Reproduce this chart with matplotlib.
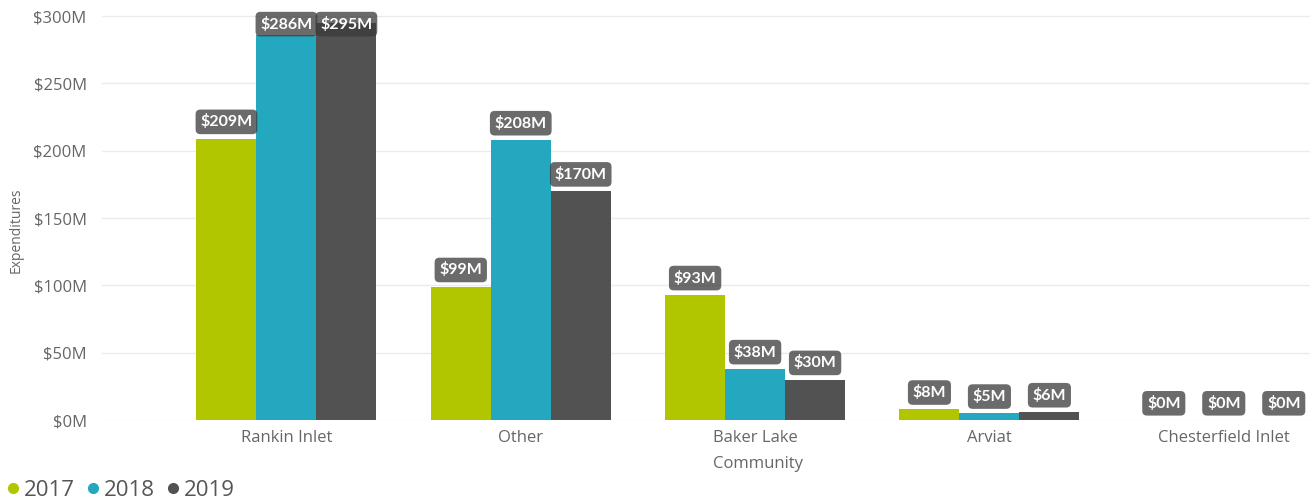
import matplotlib.pyplot as plt
import numpy as np

communities = ["Rankin Inlet", "Other", "Baker Lake", "Arviat", "Chesterfield Inlet"]
years = ["2017", "2018", "2019"]
spend_2017 = [209, 99, 93, 8, 0]
spend_2018 = [286, 208, 38, 5, 0]
spend_2019 = [295, 170, 30, 6, 0]
colors = ["#B2C600", "#24A8C0", "#525252"]
yticks = [0, 50, 100, 150, 200, 250, 300]

plt.rcParams['font.family'] = ['Open Sans', 'DejaVu Sans']

fig = plt.figure(figsize=(13.12, 5.03), dpi=100)
ax = fig.add_axes([102 / 1312, 83 / 503, 1208 / 1312, 420 / 503])

x = np.arange(len(communities))
w = 0.256
series = [spend_2017, spend_2018, spend_2019]
for i, (vals, c) in enumerate(zip(series, colors)):
    xs = x + (i - 1) * w
    ax.bar(xs, vals, width=w, color=c, zorder=2)
    for xi, v in zip(xs, vals):
        # labels sit above the bar, pushed down when they would leave the plot
        ly = min(v + 12.4, 294)
        ax.text(xi, ly, f"${v}M", ha="center", va="center", color="white",
                fontsize=11.5, family=["Lato", "DejaVu Sans"], fontweight="bold", zorder=4,
                bbox=dict(boxstyle="round,pad=0.3,rounding_size=0.3", fc="#3a3a3a",
                          ec="none", alpha=0.75))

ax.set_xlim(-0.787, 4.368)
ax.set_ylim(0, 311.9)
ax.set_yticks(yticks)
ax.set_yticklabels([f"${t}M" for t in yticks])
ax.set_xticks(x)
ax.set_xticklabels(communities)
ax.grid(axis="y", color="#EBEBEB", linewidth=1, zorder=0)
ax.tick_params(length=0, labelsize=12, colors="#666666", pad=7)
ax.tick_params(axis="y", pad=11)
for s in ax.spines.values():
    s.set_visible(False)

ax.set_xlabel("Community", fontsize=12, color="#666666")
ax.xaxis.set_label_coords(0.543, -0.085)
fig.text(16 / 1312, 1 - 230 / 503, "Expenditures", rotation=90, ha="center", va="center",
         fontsize=10, color="#666666")

# legend row along the bottom edge
handles = [plt.Line2D([], [], marker="o", linestyle="none", color=c, markersize=7)
           for c in colors]
fig.legend(handles, years, loc="lower left", bbox_to_anchor=(-0.014, -0.035), ncol=3,
           frameon=False, fontsize=16, handletextpad=0.0, columnspacing=0.3,
           handlelength=1.0, labelcolor="#555555")

fig.savefig("out.png", dpi=100)
